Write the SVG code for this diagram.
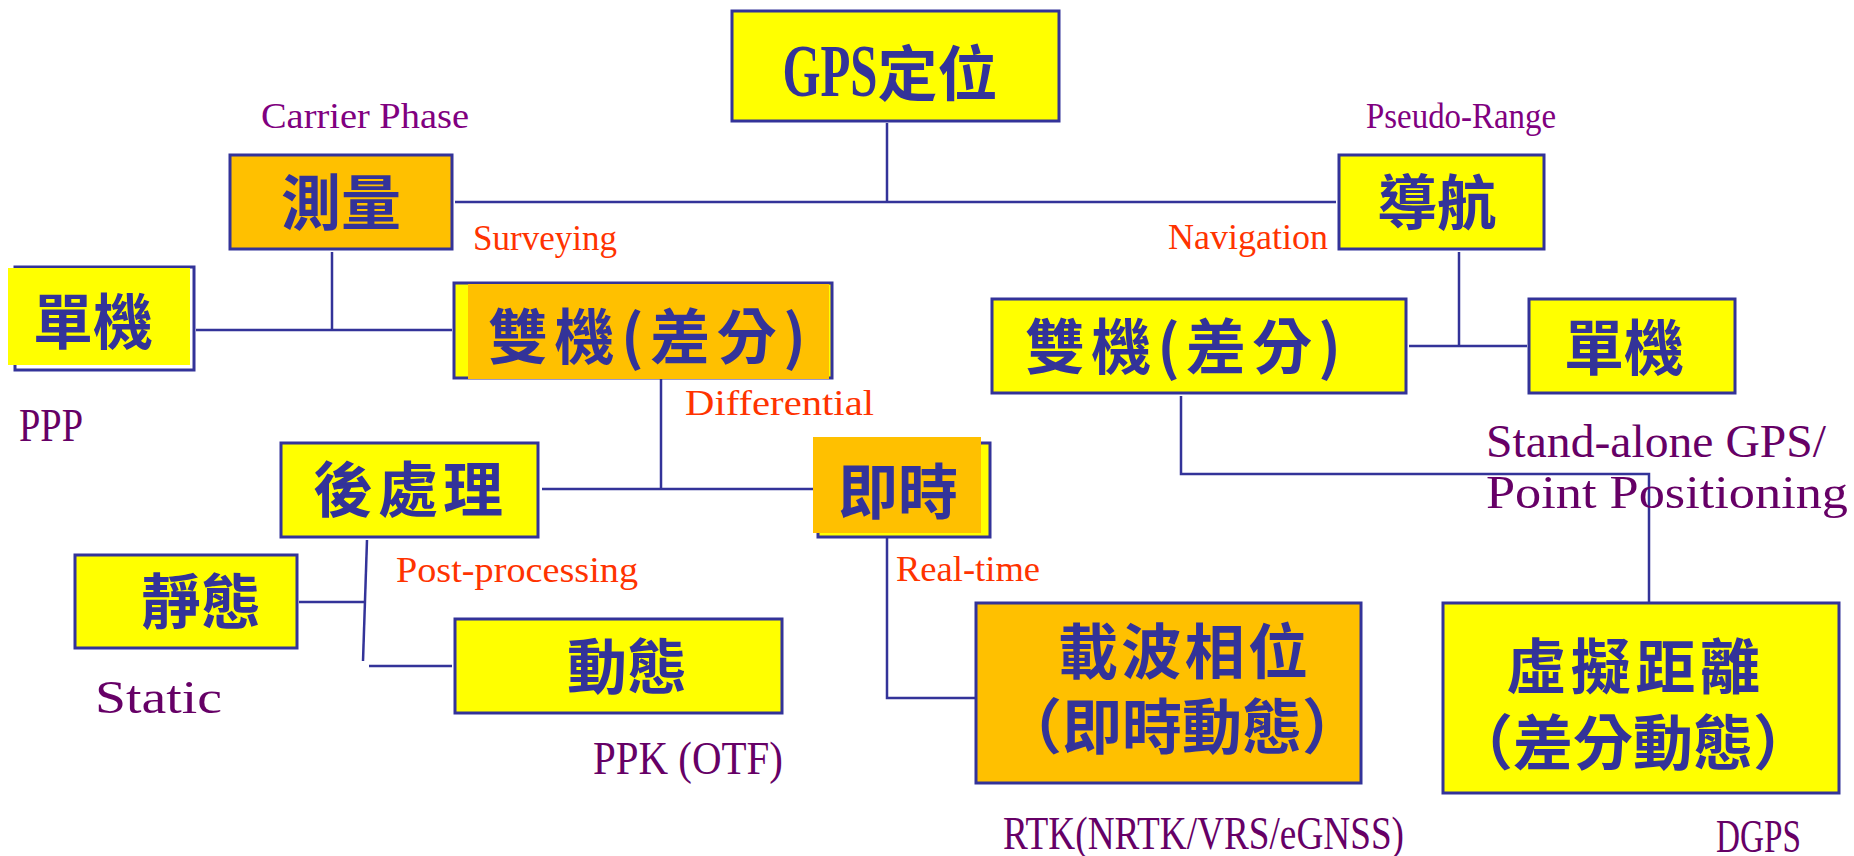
<svg xmlns="http://www.w3.org/2000/svg" width="1854" height="856" viewBox="0 0 1854 856">
<style>
.y{fill:#FFFF00;stroke:#333399;stroke-width:3}
.o{fill:#FFC000;stroke:#333399;stroke-width:3}
.fy{fill:#FFFF00;stroke:none}
.fo{fill:#FFC000;stroke:none}
.bd{fill:none;stroke:#333399;stroke-width:3}
.cjk{font-family:"Noto Sans CJK TC","Noto Sans CJK SC",sans-serif;font-weight:bold;font-size:60px;fill:#333399;text-anchor:middle}
.lat{font-family:"Liberation Serif",serif;}
.red{font-size:36px;fill:#FF3300}
.pu{font-size:36px;fill:#800080}
.dp{font-size:46px;fill:#660066}
.c{fill:none;stroke:#333399;stroke-width:2.5}
</style>
<rect width="1854" height="856" fill="#FFFFFF"/>
<g id="connectors">
<path class="c" d="M887 123V202"/>
<path class="c" d="M455 202H1336"/>
<path class="c" d="M332 252V330"/>
<path class="c" d="M196 330H452"/>
<path class="c" d="M1459 252V346"/>
<path class="c" d="M1409 346H1527"/>
<path class="c" d="M1181 396V474H1649V603"/>
<path class="c" d="M661 379V489"/>
<path class="c" d="M542 489H815"/>
<path class="c" d="M367 540L363 661"/>
<path class="c" d="M299 602H364"/>
<path class="c" d="M369 666H452"/>
<path class="c" d="M887 538V698H975"/>
</g>
<g id="gps">
<rect class="y" x="732" y="11" width="327" height="110"/>
<text class="cjk" x="890" y="96" font-size="62"><tspan font-family="Liberation Serif" font-weight="bold" font-size="74" textLength="95" lengthAdjust="spacingAndGlyphs">GPS</tspan>定位</text>
</g>
<g id="surveying">
<rect class="o" x="230" y="155" width="222" height="94"/>
<text class="cjk" x="341" y="225">測量</text>
</g>
<g id="navigation">
<rect class="y" x="1339" y="155" width="205" height="94"/>
<text class="cjk" x="1437" y="225">導航</text>
</g>
<g id="single-left">
<rect class="bd" x="15" y="267" width="179" height="103"/>
<rect class="fy" x="8" y="268" width="182" height="97"/>
<text class="cjk" x="93" y="344">單機</text>
</g>
<g id="differential-left">
<rect class="y" x="454" y="283" width="378" height="95"/>
<rect class="fo" x="468" y="284" width="361" height="95"/>
<text class="cjk" x="647" y="359" textLength="318" lengthAdjust="spacing">雙機(差分)</text>
</g>
<g id="differential-right">
<rect class="y" x="992" y="299" width="414" height="94"/>
<text class="cjk" x="1183" y="369" textLength="316" lengthAdjust="spacing">雙機(差分)</text>
</g>
<g id="single-right">
<rect class="y" x="1529" y="299" width="206" height="94"/>
<text class="cjk" x="1624" y="370">單機</text>
</g>
<g id="post-processing">
<rect class="y" x="281" y="443" width="257" height="94"/>
<text class="cjk" x="408" y="512" textLength="190" lengthAdjust="spacing">後處理</text>
</g>
<g id="real-time">
<rect class="y" x="818" y="443" width="172" height="94"/>
<rect class="fo" x="813" y="437" width="168" height="96"/>
<text class="cjk" x="898" y="514">即時</text>
</g>
<g id="static">
<rect class="y" x="75" y="555" width="222" height="93"/>
<text class="cjk" x="201" y="624">靜態</text>
</g>
<g id="kinematic">
<rect class="y" x="455" y="619" width="327" height="94"/>
<text class="cjk" x="627" y="689">動態</text>
</g>
<g id="carrier-phase">
<rect class="o" x="976" y="603" width="385" height="180"/>
<text class="cjk"><tspan x="1183" y="674" textLength="250" lengthAdjust="spacing">載波相位</tspan><tspan x="1182" y="749">（即時動態）</tspan></text>
</g>
<g id="pseudo-range">
<rect class="y" x="1443" y="603" width="396" height="190"/>
<text class="cjk"><tspan x="1633" y="689" textLength="254" lengthAdjust="spacing">虛擬距離</tspan><tspan x="1633" y="765">（差分動態）</tspan></text>
</g>
<g id="labels">
<text class="lat pu" x="261" y="128" textLength="208" lengthAdjust="spacingAndGlyphs">Carrier Phase</text>
<text class="lat pu" x="1366" y="128" textLength="190" lengthAdjust="spacingAndGlyphs">Pseudo-Range</text>
<text class="lat red" x="473" y="250" textLength="144" lengthAdjust="spacingAndGlyphs">Surveying</text>
<text class="lat red" x="1168" y="249" textLength="160" lengthAdjust="spacingAndGlyphs">Navigation</text>
<text class="lat red" x="685" y="415" textLength="189" lengthAdjust="spacingAndGlyphs">Differential</text>
<text class="lat red" x="396" y="582" textLength="242" lengthAdjust="spacingAndGlyphs">Post-processing</text>
<text class="lat red" x="896" y="581" textLength="144" lengthAdjust="spacingAndGlyphs">Real-time</text>
<text class="lat dp" x="19" y="441" textLength="64" lengthAdjust="spacingAndGlyphs">PPP</text>
<text class="lat dp" x="95" y="713" textLength="127" lengthAdjust="spacingAndGlyphs">Static</text>
<text class="lat dp" x="593" y="774" textLength="190" lengthAdjust="spacingAndGlyphs">PPK (OTF)</text>
<text class="lat dp" x="1486" y="457" textLength="340" lengthAdjust="spacingAndGlyphs">Stand-alone GPS/</text>
<text class="lat dp" x="1486" y="508" textLength="362" lengthAdjust="spacingAndGlyphs">Point Positioning</text>
<text class="lat dp" x="1003" y="849" textLength="401" lengthAdjust="spacingAndGlyphs">RTK(NRTK/VRS/eGNSS)</text>
<text class="lat dp" x="1716" y="852" textLength="85" lengthAdjust="spacingAndGlyphs">DGPS</text>
</g>
</svg>
